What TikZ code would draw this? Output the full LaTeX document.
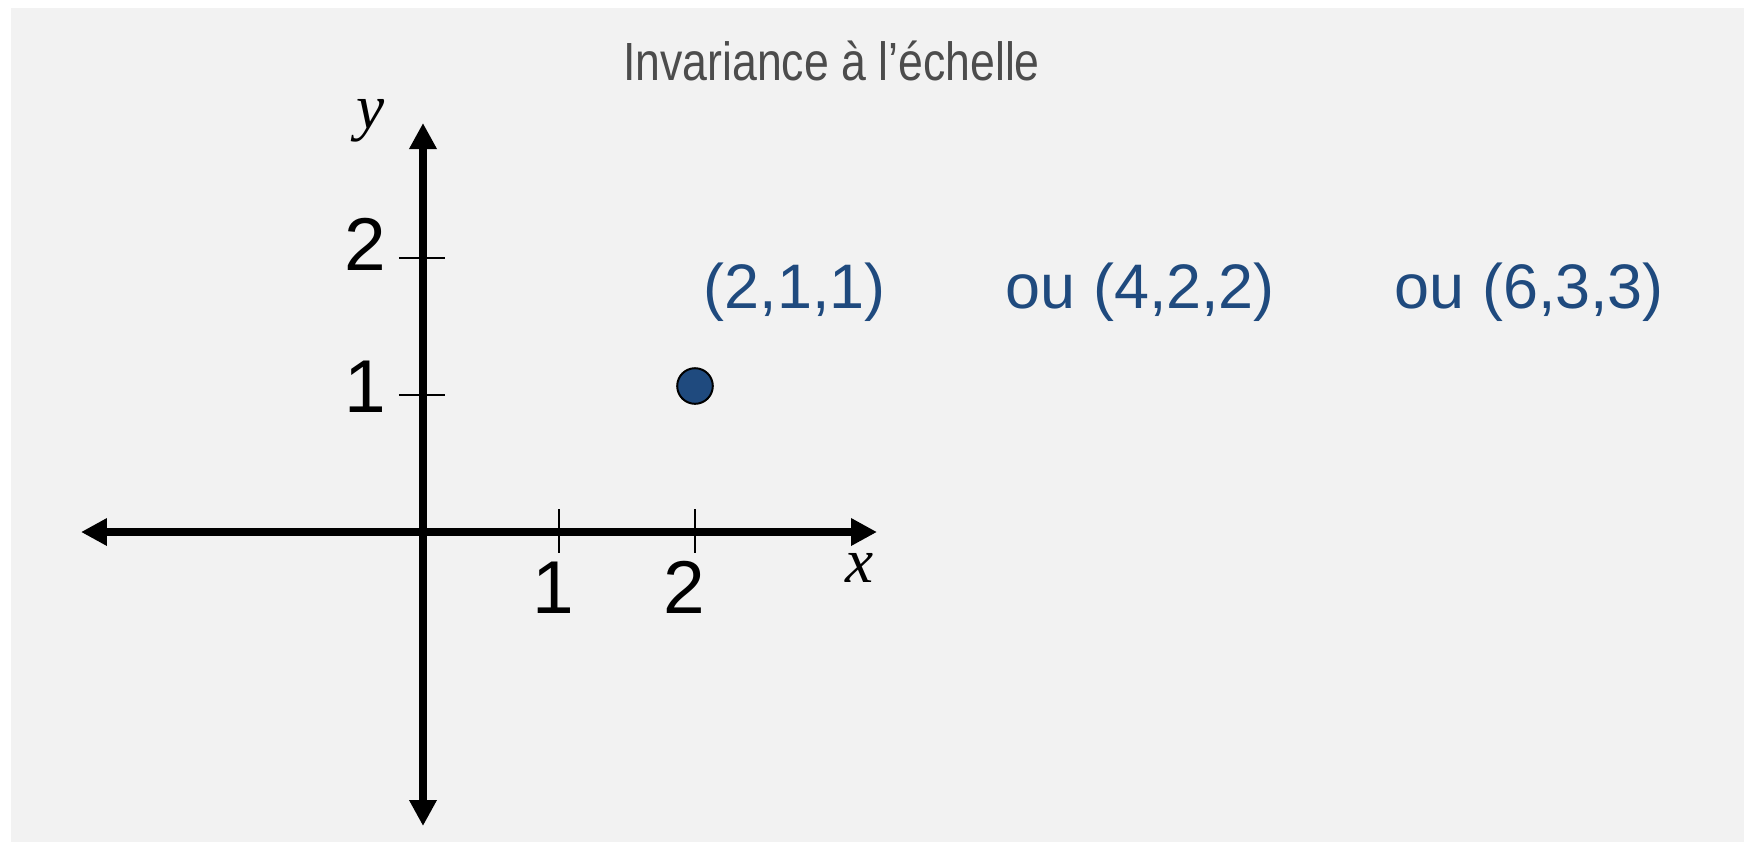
\documentclass[tikz,border=0pt]{standalone}
\usepackage{fontspec}
\setmainfont{Liberation Sans}
\newfontfamily\timesit{Liberation Serif}[ItalicFont={* Italic}]
\usetikzlibrary{arrows.meta}
\usepackage{xcolor}
\definecolor{bggray}{HTML}{F2F2F2}
\definecolor{ptblue}{HTML}{1F4A7E}

\begin{document}
\begin{tikzpicture}[
  axis/.style={line width=0.08cm, {Triangle[width=0.26cm,length=0.26cm]}-{Triangle[width=0.26cm,length=0.26cm]}},
  tick/.style={line width=0.02cm},
  ticklabel/.style={inner sep=0, font=\fontsize{21.3}{24}\selectfont},
  varlabel/.style={inner sep=0, font=\fontsize{18}{20}\timesit\itshape},
  coordlabel/.style={inner sep=0, anchor=base west, text=ptblue, font=\fontsize{17.9}{20}\selectfont}
]
  % Background
  \useasboundingbox (-4.23,-3.10) rectangle (13.21,5.32);
  \fill[bggray] (-4.12,-3.10) rectangle (13.21,5.24);

  % Title
  \node[inner sep=0, anchor=base, text=black!70, font=\fontsize{15.3}{18}\selectfont,
        xscale=0.83, transform shape] (title) at (4.085,4.52) {Invariance à l’échelle};

  % Axes
  \coordinate (xmin) at (-3.42,0);
  \coordinate (xmax) at (4.54,0);
  \coordinate (ymin) at (0,-2.94);
  \coordinate (ymax) at (0,4.09);
  \draw[axis] (xmin) -- (xmax);
  \draw[axis] (ymin) -- (ymax);
  \node[varlabel, anchor=base] (xname) at (4.37,-0.50) {x};
  \node[varlabel, anchor=base] (yname) at (-0.52,4.04) {y};

  % Ticks
  \foreach \i in {1,2} {
    \draw[tick] (\i*1.36,0.23) -- (\i*1.36,-0.21);
    \draw[tick] (-0.24,\i*1.37) -- (0.22,\i*1.37);
  }
  \node[ticklabel, anchor=base] (xt1) at (1.30,-0.81) {1};
  \node[ticklabel, anchor=base] (xt2) at (2.615,-0.81) {2};
  \node[ticklabel, anchor=base east] (yt1) at (-0.365,1.20) {1};
  \node[ticklabel, anchor=base east] (yt2) at (-0.365,2.62) {2};

  % Point
  \node[circle, draw, line width=0.02cm, fill=ptblue, minimum size=0.356cm, inner sep=0] (pt) at (2.72,1.46) {};

  % Coordinates
  \node[coordlabel] (c1) at (2.80,2.24) {(2,1,1)};
  \node[coordlabel] (c2) at (5.82,2.24) {ou (4,2,2)};
  \node[coordlabel] (c3) at (9.71,2.24) {ou (6,3,3)};
\end{tikzpicture}
\end{document}
